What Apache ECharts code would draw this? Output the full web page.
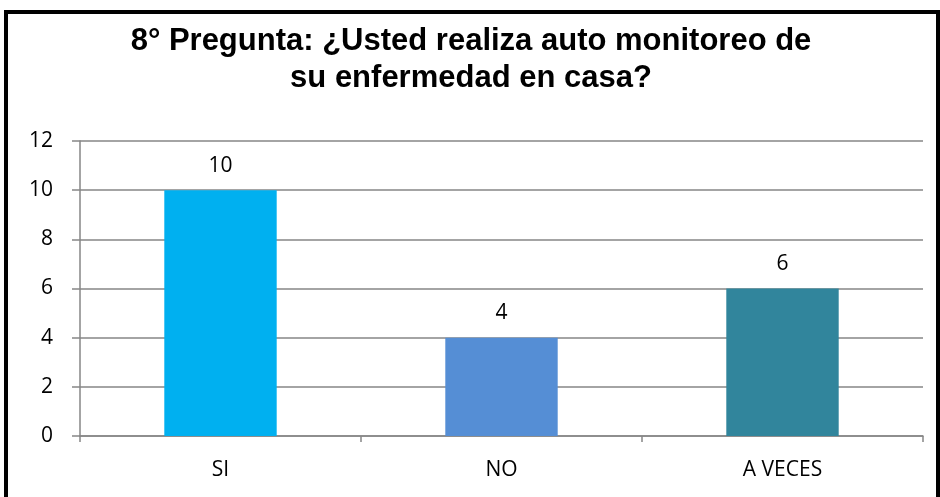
<!DOCTYPE html>
<html>
<head>
<meta charset="utf-8">
<script src="https://cdn.jsdelivr.net/npm/echarts@6/dist/echarts.min.js"></script>
<style>
html, body { margin: 0; padding: 0; width: 100%; height: 100%; background: #fff; }
#main { width: 940px; height: 497px; }
</style>
</head>
<body>
<div id="main"></div>
<script>
var categories = ['SI', 'NO', 'A VECES'];
var values = [10, 4, 6];
var barColors = ['#00B0F0', '#558ED5', '#31859C'];
var titleText = '8° Pregunta: ¿Usted realiza auto monitoreo de\nsu enfermedad en casa?';

var chart = echarts.init(document.getElementById('main'));
var option = {
  animation: false,
  backgroundColor: '#fff',
  title: {
    text: titleText,
    left: 466,
    top: 18,
    textAlign: 'center',
    textStyle: {
      fontFamily: 'Liberation Sans, Arial',
      fontWeight: 'bold',
      fontSize: 31,
      lineHeight: 37,
      color: '#000'
    }
  },
  graphic: [{
    type: 'rect',
    shape: { x: 6, y: 12, width: 932, height: 500 },
    style: { fill: 'none', stroke: '#000', lineWidth: 4 },
    silent: true
  }],
  grid: { left: 80, right: 17, top: 141, bottom: 61 },
  xAxis: {
    type: 'category',
    data: categories,
    axisLine: { lineStyle: { color: '#868686', width: 1.5 } },
    axisTick: { show: true, length: 6, lineStyle: { color: '#868686', width: 1.5 } },
    axisLabel: { color: '#000', fontSize: 21, fontFamily: 'Open Sans, Liberation Sans', margin: 24 }
  },
  yAxis: {
    type: 'value',
    min: 0,
    max: 12,
    interval: 2,
    axisLine: { show: true, lineStyle: { color: '#868686', width: 1.5 } },
    axisTick: { show: true, length: 8, lineStyle: { color: '#868686', width: 1.5 } },
    splitLine: { lineStyle: { color: '#868686', width: 1.5 } },
    axisLabel: { color: '#000', fontSize: 21, fontFamily: 'Open Sans, Liberation Sans', margin: 27 }
  },
  series: [{
    type: 'bar',
    barWidth: '40%',
    data: values.map(function (v, i) {
      return { value: v, itemStyle: { color: barColors[i] } };
    }),
    label: {
      show: true,
      position: 'top',
      distance: 14,
      color: '#000',
      fontSize: 21,
      fontFamily: 'Open Sans, Liberation Sans'
    }
  }]
};
chart.setOption(option);
</script>
</body>
</html>
